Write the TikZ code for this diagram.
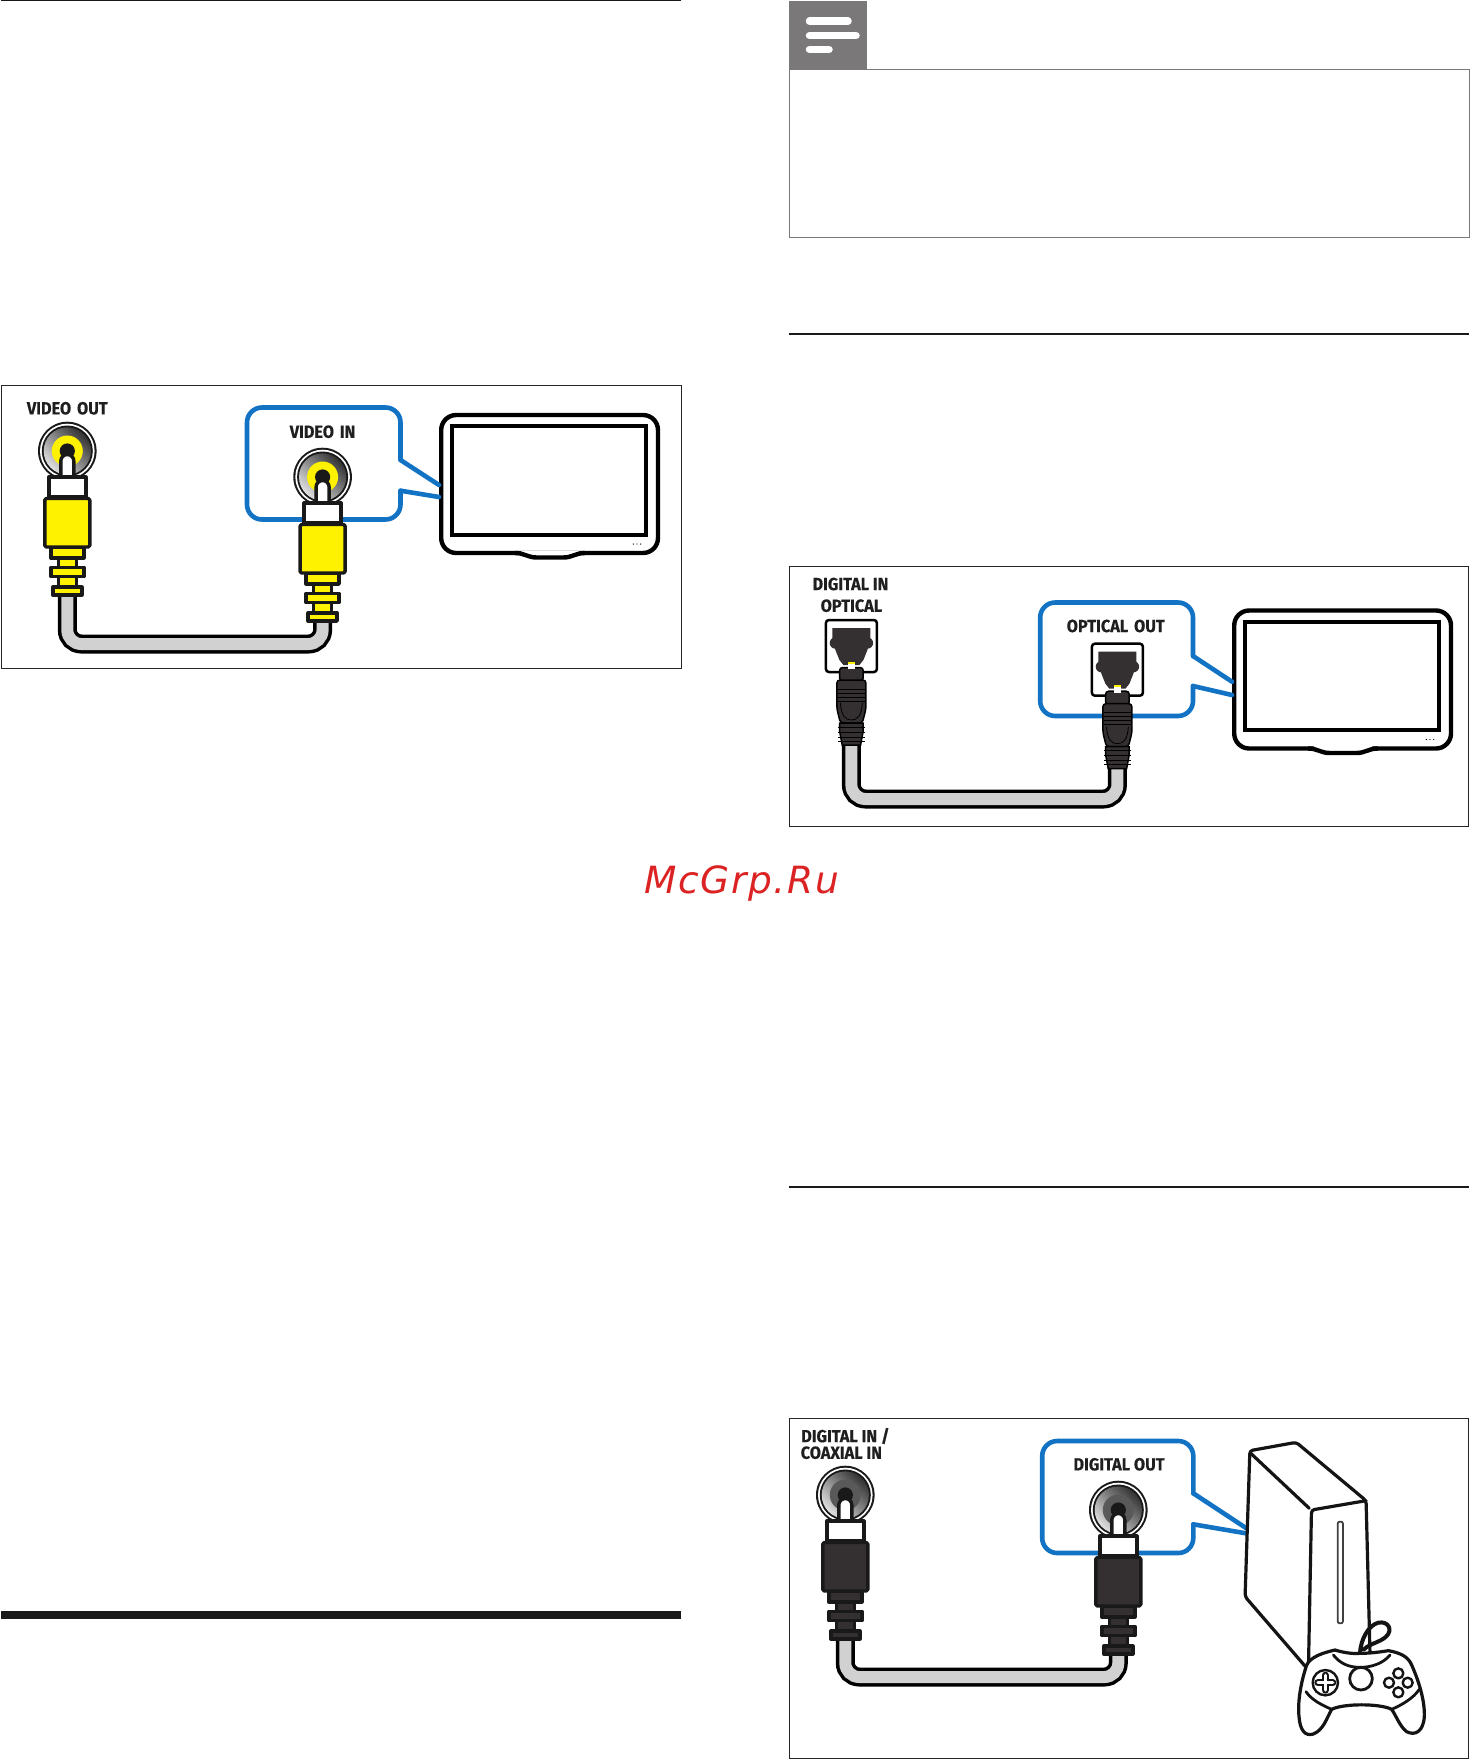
\documentclass[tikz,border=0pt]{standalone}
\usepackage{fontspec}
\newfontfamily\lblfont[FakeStretch=.93,FakeBold=.25]{Fira Sans}
\newfontfamily\wmfont[LetterSpace=4.5]{DejaVu Sans}
\definecolor{phblue}{HTML}{1272C4}
\definecolor{phyel}{HTML}{FFF200}
\definecolor{phdark}{HTML}{343031}
\definecolor{phgrey}{HTML}{D1D1D1}
\definecolor{notegrey}{HTML}{7A7878}
\definecolor{wmred}{HTML}{DC2323}
\tikzset{
  framebox/.style={draw=black!85,line width=1pt},
  lbl/.style={inner sep=0pt,font=\lblfont\bfseries\fontsize{17.5}{20}\selectfont,text=black!88,align=center},
  plugline/.style={draw=black!90,line width=3.4pt,line join=round},
  cableouter/.style={draw=black,line width=19pt,rounded corners=14pt},
  cableinner/.style={draw=phgrey,line width=12pt,rounded corners=14pt},
  calloutline/.style={draw=phblue,line width=4.6pt,line join=round,line cap=round},
  tvline/.style={draw=black,line width=4.4pt,line join=round},
  devline/.style={draw=black!92,line width=3.2pt,line join=round,line cap=round},
  padline/.style={draw=black!92,line width=2.8pt,line join=round,line cap=round},
}
% name, x, y0, body fill, ring fill
\newcommand{\rcaplug}[5]{%
\begin{scope}[shift={(#2,#3)}]
  \fill[black!90] (0,-24) circle (29.3);
  \fill[white] (0,-24) circle (27.3);
  \fill[black!90] (0,-24) circle (25.5);
  \shade[top color=black!80,bottom color=black!12,shading angle=-45] (0,-24) circle (23.6);
  \fill[#5] (0,-24) circle (15.5);
  \fill[black!90] (0,-24) circle (7.6);
  \draw[plugline,fill=white] (-6.5,2) -- (-6.5,-14) arc[start angle=180,end angle=360,radius=6.5] -- (6.5,2);
  \draw[plugline,fill=white] (-18.5,2) rectangle (18.5,21.5);
  \draw[plugline,fill=#4] (-9,82) rectangle (9,93);
  \draw[plugline,fill=#4] (-9,100) rectangle (9,113);
  \draw[plugline,fill=#4] (-16.5,72) rectangle (16.5,83);
  \draw[plugline,fill=#4] (-16.5,92.5) rectangle (16.5,101.5);
  \draw[plugline,fill=#4] (-14.5,112) rectangle (14.5,120);
  \draw[plugline,fill=#4,rounded corners=1.5pt] (-22.5,23.5) rectangle (22.5,72);
  \coordinate (#1-end) at (0,120);
\end{scope}}
% name, x, y0
\newcommand{\optplug}[3]{%
\begin{scope}[shift={(#2,#3)}]
  \draw[draw=black,line width=2.5pt,fill=white,rounded corners=3pt] (-25.5,1) rectangle (25.5,53);
  \fill[phdark] (-19,9) -- (19,9) -- (19,19) -- (16,31) -- (12,41) -- (8,46) -- (-8,46) -- (-12,41) -- (-16,31) -- (-19,19) -- cycle;
  \fill[phdark] (-16,24) circle (5.7) (16,24) circle (5.7);
  \draw[line width=1.5pt,draw=black,fill=phdark,rounded corners=3pt] (-11.8,48.5) rectangle (11.8,62);
  \fill[white] (-3.6,43.5) rectangle (3.6,50);
  \fill[phyel] (-3.6,42.5) rectangle (3.6,44.5);
  \draw[line width=1.5pt,draw=black,fill=phdark,rounded corners=3pt] (-14.5,61) -- (14.5,61) -- (14.5,90) -- (11,104) -- (-11,104) -- (-14.5,90) -- cycle;
  \draw[line width=1.5pt,draw=black,fill=phdark] (-11.8,104) -- (11.8,104) -- (11.8,112) -- (9.2,126) -- (-9.2,126) -- (-11.8,112) -- cycle;
  \foreach \yy in {70,74,78,82,108,113,118,122}{\draw[black,line width=.8pt] (-13.5,\yy) -- (13.5,\yy);}
  \draw[black,line width=.8pt] (-11,84) .. controls (-10,97) and (-6,101) .. (0,101) .. controls (6,101) and (10,97) .. (11,84);
  \coordinate (#1-end) at (0,126);
\end{scope}}
% left top right bottom y1 tipx tip1 tip2 y2
\newcommand{\calloutbox}[9]{%
  \draw[calloutline,rounded corners=15pt] (#3,#5) -- (#3,#2) -- (#1,#2) -- (#1,#4) -- (#3,#4) -- (#3,#9);
  \draw[calloutline] (#3,#5) -- (#6,#7);
  \draw[calloutline] (#3,#9) -- (#6,#8);}
% dx dy
\newcommand{\tvset}[2]{%
\begin{scope}[shift={(#1,#2)}]
  \draw[tvline,fill=white,rounded corners=15pt] (441.2,484) -- (441.2,415) -- (658,415) -- (658,553) -- (441.2,553) -- cycle;
  \fill[white] (520,553) rectangle (580,557);
  \draw[white,line width=5pt] (521,553) -- (579,553);
  \draw[tvline,fill=white] (515,553) .. controls (525,553) and (527,557.5) .. (537,557.5) -- (563,557.5) .. controls (573,557.5) and (575,553) .. (585,553);
  \draw[draw=black,line width=4pt,line join=miter] (452,426) rectangle (646.3,534.7);
  \fill[black] (633.3,544) circle (.7) (637,544) circle (.7) (640.7,544) circle (.7);
\end{scope}}
\begin{document}
\begin{tikzpicture}[x=1pt,y=-1pt]
\useasboundingbox (0,0) rectangle (1470,1759);
\fill[white] (0,0) rectangle (1470,1759);
% page rules
\fill[black!90] (1,0) rectangle (681,1.3);
\fill[black!90] (789.4,333.3) rectangle (1468.7,335.3);
\fill[black!90] (789.4,1186) rectangle (1468.7,1188);
\fill[black!90] (1,1610.7) rectangle (681,1619);
% note
\fill[notegrey] (789.4,1) rectangle (867,69.3);
\draw[white,line width=7.5pt,line cap=round] (809.5,21.2) -- (848,21.2);
\draw[white,line width=7.5pt,line cap=round] (809.5,35.7) -- (856,35.7);
\draw[white,line width=7.5pt,line cap=round] (809.5,49.5) -- (829,49.5);
\draw[draw=notegrey,line width=1.2pt] (789.4,69.3) rectangle (1469.4,237.3);
% panel 1
\draw[framebox] (1.3,385.7) rectangle (681,668.5);
\tvset{0}{0}
\calloutbox{247}{407.5}{400.5}{519.5}{460}{439}{485}{497}{490.7}
\node[lbl] (t1) at (67.3,408.3) {VIDEO\hspace{2pt} OUT};
\node[lbl] (t2) at (322.6,431.7) {VIDEO\hspace{2pt} IN};
\coordinate (c1) at (67.3,644);
\coordinate (c1r) at (322.6,644);
\coordinate (p1a) at (67.3,595);
\coordinate (p1b) at (322.6,621);
\draw[cableouter] (p1a) -- (c1) -- (c1r) -- (p1b);
\draw[cableinner] (p1a) -- (c1) -- (c1r) -- (p1b);
\rcaplug{pa}{67.3}{475}{phyel}{phyel}
\rcaplug{pb}{322.6}{501}{phyel}{phyel}
% panel 2
\draw[framebox] (789.4,566) rectangle (1468.7,826);
\tvset{793}{195.5}
\calloutbox{1040.2}{602.5}{1193}{716}{656}{1232}{681.7}{695}{686}
\node[lbl] (t3) at (850.5,584) {DIGITAL IN};
\node[lbl] (t4) at (851.4,605.7) {OPTICAL};
\node[lbl] (t5) at (1115.7,626) {OPTICAL\hspace{2pt} OUT};
\coordinate (c2) at (851.4,799);
\coordinate (c2r) at (1117.4,799);
\coordinate (p2a) at (851.4,743);
\coordinate (p2b) at (1117.4,767);
\draw[cableouter] (p2a) -- (c2) -- (c2r) -- (p2b);
\draw[cableinner] (p2a) -- (c2) -- (c2r) -- (p2b);
\optplug{pc}{851.4}{619}
\optplug{pd}{1117.4}{642.7}
% panel 3
\draw[framebox] (789.4,1418.3) rectangle (1468.7,1758.3);
\calloutbox{1042.2}{1441}{1193.3}{1553}{1493.3}{1246}{1528}{1533.3}{1524.3}
\begin{scope}[shift={(785,1410)},x=0.4369pt,y=-0.3333pt]
  \fill[white] (1064,122) -- (1170,97) -- (1330,272) -- (1339,735) -- (1198,780) -- (1053,560) -- cycle;
  \draw[devline,rounded corners=3pt] (1339,735) -- (1330,272) -- (1170,97) -- (1064,122) -- (1053,560) -- (1198,780);
  \draw[devline,rounded corners=3pt] (1066,130) -- (1200,295);
  \draw[devline,rounded corners=3pt] (1198,780) -- (1205,300) -- (1330,272);
  \draw[draw=black!75,line width=1.8pt,rounded corners=2pt] (1265,335) rectangle (1277,640);
\end{scope}
\begin{scope}[shift={(1290,1610)},x=0.3333pt,y=-0.3333pt]
  % cord
  \draw[padline,line width=4pt] (210,128) .. controls (212,90) and (235,45) .. (265,38) .. controls (295,32) and (310,60) .. (288,80) .. controls (270,97) and (240,100) .. (222,118);
  % gamepad
  \draw[padline,line width=3.2pt,fill=white] (135,120) .. controls (160,128) and (190,132) .. (210,130) .. controls (240,130) and (270,126) .. (295,122) .. controls (330,128) and (355,140) .. (365,165) .. controls (385,210) and (405,270) .. (403,320) .. controls (400,365) and (375,378) .. (350,365) .. controls (330,350) and (320,320) .. (305,298) .. controls (270,280) and (160,280) .. (125,298) .. controls (110,325) and (100,360) .. (70,372) .. controls (45,380) and (30,360) .. (27,320) .. controls (22,270) and (35,210) .. (50,165) .. controls (62,140) and (100,128) .. (135,120) -- cycle;
  \draw[padline] (130,135) .. controls (150,160) and (175,172) .. (210,172) .. controls (245,172) and (280,160) .. (300,135);
  \draw[padline] (48,245) .. controls (65,270) and (95,285) .. (125,298);
  \draw[padline] (305,298) .. controls (335,285) and (370,265) .. (388,238);
  \draw[padline] (213,206) circle (34);
  \draw[padline,line width=2.4pt] (106,218) circle (38);
  \draw[black!92,line width=7.4pt,line cap=round] (106,196) -- (106,240) (84,218) -- (128,218);
  \draw[white,line width=3.4pt,line cap=round] (106,196) -- (106,240) (84,218) -- (128,218);
  \draw[padline,line width=2.4pt,fill=white] (325,190) circle (15) (325,247) circle (15) (297,218) circle (15) (353,218) circle (15);
\end{scope}
\node[lbl,anchor=west] (t6) at (801,1436) {DIGITAL IN /};
\node[lbl,anchor=west] (t7) at (800.5,1452.7) {COAXIAL IN};
\node[lbl] (t8) at (1119,1464.3) {DIGITAL OUT};
\coordinate (c3) at (845.3,1677);
\coordinate (c3r) at (1118.3,1677);
\coordinate (p3a) at (845.3,1639);
\coordinate (p3b) at (1118.3,1654);
\draw[cableouter] (p3a) -- (c3) -- (c3r) -- (p3b);
\draw[cableinner] (p3a) -- (c3) -- (c3r) -- (p3b);
\rcaplug{pe}{845.3}{1519}{phdark}{black!65}
\rcaplug{pf}{1118.3}{1534}{phdark}{black!65}
% watermark
\node[inner sep=0pt,anchor=base,text=wmred,font=\wmfont\itshape\fontsize{37.5}{40}\selectfont] (wm) at (741.5,893) {McGrp.Ru};
\end{tikzpicture}
\end{document}
